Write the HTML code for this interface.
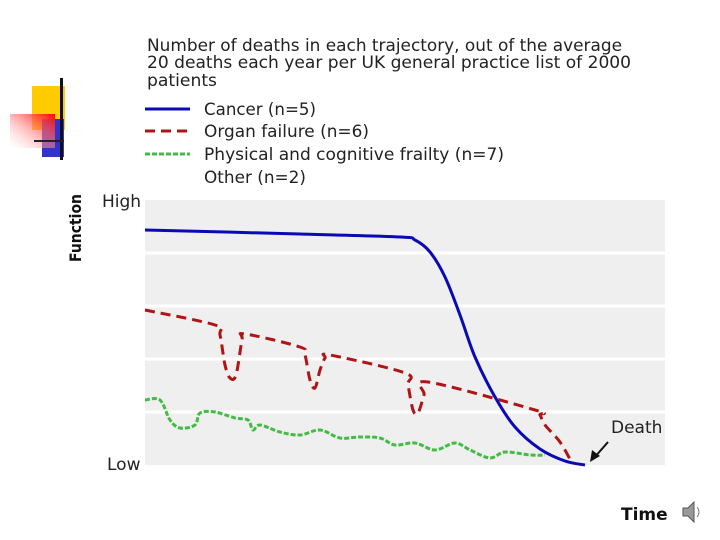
<!DOCTYPE html>
<html><head><meta charset="utf-8"><style>
body{margin:0;background:#fff;width:720px;height:540px;overflow:hidden}
svg{display:block;font-family:"DejaVu Sans","Liberation Sans",sans-serif}
</style></head><body>
<svg width="720" height="540" viewBox="0 0 720 540">
<g>
<defs><linearGradient id="rg" x1="1" y1="0" x2="0" y2="1"><stop offset="0" stop-color="#f00"/><stop offset="1" stop-color="#fff" stop-opacity="0.2"/></linearGradient></defs>
<rect x="32" y="86" width="33" height="44" fill="#ffcc00"/>
<rect x="42" y="119" width="22" height="38" fill="#3333cc"/>
<rect x="10" y="114" width="45" height="34" fill="url(#rg)"/>
<rect x="60" y="78" width="3" height="82" fill="#111"/>
<rect x="34" y="140" width="30" height="2" fill="#222"/>
</g>
<g fill="#222" font-size="17">
<text x="147" y="51" textLength="475" lengthAdjust="spacingAndGlyphs">Number of deaths in each trajectory, out of the average</text>
<text x="147" y="68" textLength="484" lengthAdjust="spacingAndGlyphs">20 deaths each year per UK general practice list of 2000</text>
<text x="147" y="86" textLength="70" lengthAdjust="spacingAndGlyphs">patients</text>
</g>
<g font-size="17" fill="#222">
<line x1="145" y1="109" x2="190" y2="109" stroke="#0a0ab4" stroke-width="3"/>
<text x="204" y="115" textLength="112" lengthAdjust="spacingAndGlyphs">Cancer (n=5)</text>
<line x1="145" y1="131" x2="190" y2="131" stroke="#b01515" stroke-width="3" stroke-dasharray="10,6"/>
<text x="204" y="137" textLength="165" lengthAdjust="spacingAndGlyphs">Organ failure (n=6)</text>
<line x1="145" y1="154" x2="190" y2="154" stroke="#44bb44" stroke-width="3" stroke-dasharray="5,2"/>
<text x="204" y="160" textLength="300" lengthAdjust="spacingAndGlyphs">Physical and cognitive frailty (n=7)</text>
<text x="204" y="183" textLength="102" lengthAdjust="spacingAndGlyphs">Other (n=2)</text>
</g>
<rect x="145" y="200" width="520" height="265" fill="#efefef"/>
<g id="grid"></g>
<g id="series"></g>
<text x="102" y="207" font-size="17" fill="#222">High</text>
<text x="107" y="470" font-size="17" fill="#222">Low</text>
<text transform="translate(81,262) rotate(-90)" font-size="16" font-weight="bold" fill="#111" textLength="68" lengthAdjust="spacingAndGlyphs">Function</text>
<text x="621" y="520" font-size="17" font-weight="bold" fill="#111">Time</text>
<text x="611" y="433" font-size="17" fill="#222">Death</text>
<g><line x1="608" y1="442" x2="594" y2="458" stroke="#111" stroke-width="2"/><polygon points="590,462 592,450 600,456" fill="#111"/></g>
<g><polygon points="683,508 688,508 694,502 694,522 688,516 683,516" fill="#999" stroke="#555"/><path d="M697 507 q4 5 0 10" stroke="#777" fill="none"/></g>
</svg>
<script>
const gridLevels=[53,106,159,212];
const cancerT=[0,155,255,270,285,300,315,330,350,370,395,420,440];
const cancerF=[235,231,228,225,213,188,150,108,68,38,16,4,0];
const organT=[0,70,75,80,85,91,97,100,155,160,165,170,175,180,185,260,263,268,273,279,283,390,395,400,415,427];
const organF=[155,140,130,100,87,90,125,131,118,110,85,77,95,107,110,92,80,55,52,70,83,55,50,40,23,2];
const frailT=[0,15,25,35,50,55,70,90,103,108,115,135,155,175,195,215,235,250,270,290,310,325,345,360,385,400];
const frailF=[65,65,45,37,40,52,53,47,45,35,40,33,30,35,27,28,27,20,22,15,22,15,7,13,10,10];
const X=t=>145+t, Y=f=>465-f;
const NS="http://www.w3.org/2000/svg";
const grid=document.getElementById('grid');
gridLevels.forEach(g=>{const l=document.createElementNS(NS,'line');


l.setAttribute('x1',145);l.setAttribute('x2',665);l.setAttribute('y1',Y(g));l.setAttribute('y2',Y(g));l.setAttribute('stroke','#fff');l.setAttribute('stroke-width','3');grid.appendChild(l);});
function smooth(ts,fs){const p=ts.map((t,i)=>[X(t),Y(fs[i])]);let d='M'+p[0];for(let i=0;i<p.length-1;i++){const p0=p[Math.max(0,i-1)],p1=p[i],p2=p[i+1],p3=p[Math.min(p.length-1,i+2)];const c1=[p1[0]+(p2[0]-p0[0])/6,p1[1]+(p2[1]-p0[1])/6],c2=[p2[0]-(p3[0]-p1[0])/6,p2[1]-(p3[1]-p1[1])/6];d+=' C'+c1+' '+c2+' '+p2;}return d;}
const s=document.getElementById('series');
function add(ts,fs,col,w,dash,name){const e=document.createElementNS(NS,'path');


e.setAttribute('d',smooth(ts,fs));e.setAttribute('fill','none');e.setAttribute('stroke',col);e.setAttribute('stroke-width',w);if(dash)e.setAttribute('stroke-dasharray',dash);s.appendChild(e);}
add(frailT,frailF,'#44bb44',3,'5,2','frailty-line');
add(organT,organF,'#b01515',3,'10,6','organ-failure-line');
add(cancerT,cancerF,'#0a0ab4',3,null,'cancer-line');
</script>
</body></html>
